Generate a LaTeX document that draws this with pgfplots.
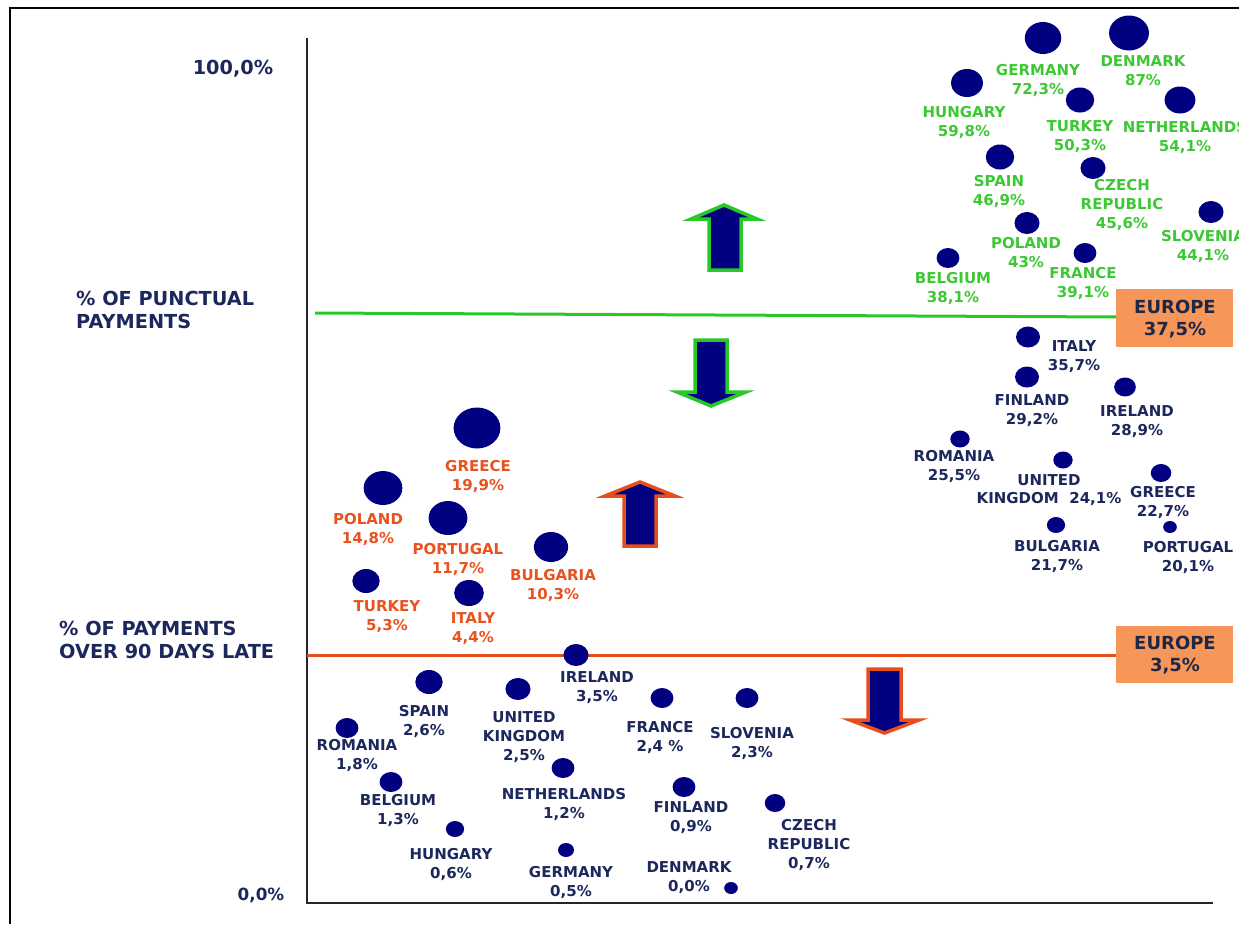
\documentclass[border=0pt]{standalone}
\usepackage{pgfplots}
\pgfplotsset{compat=1.18}
\usepackage{fontspec}
\setmainfont{DejaVu Sans}

\definecolor{bubble}{RGB}{0,0,128}
\definecolor{navytxt}{RGB}{28,40,92}
\definecolor{grntxt}{RGB}{60,200,50}
\definecolor{redtxt}{RGB}{232,82,30}
\definecolor{grnline}{RGB}{40,200,40}
\definecolor{redline}{RGB}{232,78,28}
\definecolor{eorange}{RGB}{246,150,88}
\definecolor{boxtxt}{RGB}{30,40,70}

% oval marker, a little wider than tall like the bubbles in the source
\pgfdeclareplotmark{oval}{%
  \pgfpathellipse{\pgfpointorigin}{\pgfqpoint{1.14\pgfplotmarksize}{0pt}}{\pgfqpoint{0pt}{\pgfplotmarksize}}%
  \pgfusepathqfill}

\newcommand{\lab}[4]{\node[text=#3, align=center, inner sep=0pt,
  font=\fontsize{15}{19}\selectfont\bfseries] at (axis cs:#1,#2) {#4};}

\begin{document}
\begin{tikzpicture}
\begin{axis}[
  scale only axis, width=1239pt, height=924pt,
  xmin=0, xmax=1239, ymin=0, ymax=924, y dir=reverse,
  hide axis, clip=false,
]
\coordinate (sw) at (axis cs:0,924);
\coordinate (ne) at (axis cs:1239,0);

% frame and axes
\addplot[black, line width=2pt] coordinates {(10,924) (10,8) (1239,8)};
\addplot[black!85, line width=2.4pt] coordinates {(307,38) (307,903) (1213,903)};

% europe averages
\addplot[grnline, line width=3pt] coordinates {(315,313) (1118,317)};
\addplot[redline, line width=3pt] coordinates {(307,655) (1116,655)};
\addplot[fill=eorange, draw=none] coordinates {(1116,289) (1233,289) (1233,347) (1116,347)} -- cycle;
\addplot[fill=eorange, draw=none] coordinates {(1116,626) (1233,626) (1233,683) (1116,683)} -- cycle;
\node[text=boxtxt, align=center, font=\fontsize{18}{22}\selectfont\bfseries] at (axis cs:1175,319) {EUROPE\\37,5\%};
\node[text=boxtxt, align=center, font=\fontsize{18}{22}\selectfont\bfseries] at (axis cs:1175,655) {EUROPE\\3,5\%};

% arrows
\addplot[fill=bubble, draw=grnline, line width=3.5pt, line join=miter]
  coordinates {(724,205) (757,219) (741,219) (741,270) (709,270) (709,219) (691,219)} -- cycle;
\addplot[fill=bubble, draw=grnline, line width=3.5pt, line join=miter]
  coordinates {(695,340) (727,340) (727,392) (746,392) (711,406) (677,392) (695,392)} -- cycle;
\addplot[fill=bubble, draw=redline, line width=3.5pt, line join=miter]
  coordinates {(640,482) (675,496) (656,496) (656,546) (624,546) (624,496) (605,496)} -- cycle;
\addplot[fill=bubble, draw=redline, line width=3.5pt, line join=miter]
  coordinates {(868,669) (901,669) (901,720) (919,720) (884.5,733) (850,720) (868,720)} -- cycle;

% bubbles: x, y, radius (px)
\addplot[scatter, only marks, mark=oval,
  scatter/use mapped color={draw=bubble, fill=bubble},
  point meta=explicit,
  visualization depends on={\thisrow{r} \as \rad},
  scatter/@pre marker code/.append style={/tikz/mark size=\rad},
] table[x=x, y=y, meta=r] {
x y r
1043 38 16
1129 33 17.5
967 83 14
1080 100 12.5
1180 100 13.5
1000 157 12.5
1093 168 11
1211 212 11
1027 223 11
1085 253 10
948 258 10
1028 337 10.5
1027 377 10.5
1125 387 9.5
960 439 8.5
1063 460 8.5
1161 473 9
1056 525 8
1170 527 6
477 428 20.5
383 488 17
448 518 17
551 547 15
366 581 12
469 593 13
576 655 11
429 682 12
518 689 11
347 728 10
391 782 10
563 768 10
455 829 8
566 850 7
662 698 10
747 698 10
684 787 10
775 803 9
731 888 6
};

% left captions
\node[text=navytxt, font=\fontsize{19.3}{23}\selectfont\bfseries] at (axis cs:233,69) {100,0\%};
\node[text=navytxt, font=\fontsize{16.8}{20}\selectfont\bfseries] at (axis cs:261,895) {0,0\%};
\node[text=navytxt, anchor=west, align=left, inner sep=0pt, font=\fontsize{19.3}{23}\selectfont\bfseries] at (axis cs:76,310) {\% OF PUNCTUAL\\PAYMENTS};
\node[text=navytxt, anchor=west, align=left, inner sep=0pt, font=\fontsize{19.3}{23}\selectfont\bfseries] at (axis cs:59,640) {\% OF PAYMENTS\\OVER 90 DAYS LATE};

% punctual payments above the average
\lab{1038}{80}{grntxt}{GERMANY\\72,3\%}
\lab{1143}{71}{grntxt}{DENMARK\\87\%}
\lab{964}{122}{grntxt}{HUNGARY\\59,8\%}
\lab{1080}{137}{grntxt}{TURKEY\\50,3\%}
\lab{1185}{137}{grntxt}{NETHERLANDS\\54,1\%}
\lab{999}{191}{grntxt}{SPAIN\\46,9\%}
\lab{1122}{205}{grntxt}{CZECH\\REPUBLIC\\45,6\%}
\lab{1203}{246}{grntxt}{SLOVENIA\\44,1\%}
\lab{1026}{253}{grntxt}{POLAND\\43\%}
\lab{1083}{283}{grntxt}{FRANCE\\39,1\%}
\lab{953}{288}{grntxt}{BELGIUM\\38,1\%}

% punctual payments below the average
\lab{1074}{357}{navytxt}{ITALY\\35,7\%}
\lab{1032}{411}{navytxt}{FINLAND\\29,2\%}
\lab{1137}{422}{navytxt}{IRELAND\\28,9\%}
\lab{954}{466}{navytxt}{ROMANIA\\25,5\%}
\lab{1049}{480}{navytxt}{UNITED}
\lab{1049}{499}{navytxt}{KINGDOM\ \ 24,1\%}
\lab{1163}{502}{navytxt}{GREECE\\22,7\%}
\lab{1057}{556}{navytxt}{BULGARIA\\21,7\%}
\lab{1188}{557}{navytxt}{PORTUGAL\\20,1\%}

% payments over 90 days late above the average
\lab{478}{476}{redtxt}{GREECE\\19,9\%}
\lab{368}{529}{redtxt}{POLAND\\14,8\%}
\lab{458}{559}{redtxt}{PORTUGAL\\11,7\%}
\lab{553}{585}{redtxt}{BULGARIA\\10,3\%}
\lab{387}{617}{redtxt}{TURKEY\\5,3\%}
\lab{473}{629}{redtxt}{ITALY\\4,4\%}

% payments over 90 days late below the average
\lab{597}{688}{navytxt}{IRELAND\\3,5\%}
\lab{424}{721}{navytxt}{SPAIN\\2,6\%}
\lab{524}{737}{navytxt}{UNITED\\KINGDOM\\2,5\%}
\lab{357}{755}{navytxt}{ROMANIA\\1,8\%}
\lab{660}{737}{navytxt}{FRANCE\\2,4 \%}
\lab{752}{743}{navytxt}{SLOVENIA\\2,3\%}
\lab{398}{810}{navytxt}{BELGIUM\\1,3\%}
\lab{564}{804}{navytxt}{NETHERLANDS\\1,2\%}
\lab{691}{818}{navytxt}{FINLAND\\0,9\%}
\lab{809}{845}{navytxt}{CZECH\\REPUBLIC\\0,7\%}
\lab{451}{864}{navytxt}{HUNGARY\\0,6\%}
\lab{571}{882}{navytxt}{GERMANY\\0,5\%}
\lab{689}{878}{navytxt}{DENMARK\\0,0\%}
\end{axis}
\pgfresetboundingbox
\path[use as bounding box] (sw) rectangle (ne);
\end{tikzpicture}
\end{document}
